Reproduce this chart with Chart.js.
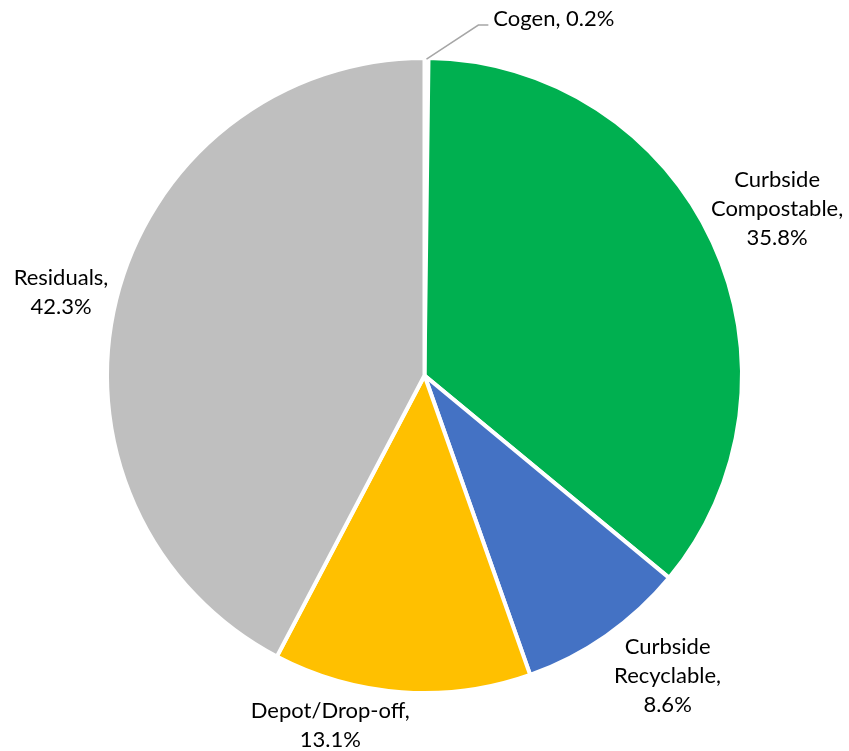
<!DOCTYPE html>
<html>
<head>
<meta charset="utf-8">
<script src="https://cdn.jsdelivr.net/npm/chart.js@4/dist/chart.umd.min.js"></script>
<style>
  html, body { margin: 0; padding: 0; background: #fff; }
  #wrap { width: 849px; height: 751px; position: relative; }
</style>
</head>
<body>
<div id="wrap"><canvas id="pie"></canvas></div>
<script>
/* Waste stream shares — pie with outside labels */
const categories = ['Cogen', 'Curbside Compostable', 'Curbside Recyclable', 'Depot/Drop-off', 'Residuals'];
const shares = [0.2, 35.8, 8.6, 13.1, 42.3];
const sliceColors = ['#A5A5A5', '#00B050', '#4472C4', '#FFC000', '#BFBFBF'];

// how many lines each label wraps onto, and nudges from the default spot
const labelLineCount = [1, 3, 3, 2, 2];
const labelDx = [127, 10, 27, -67, 3];
const labelDy = [21, -8, -9, -27, 7];

const LABEL_FONT = '22px Lato, "Open Sans", sans-serif';
const LINE_H = 29;

function labelLines(i) {
  const pct = shares[i].toFixed(1) + '%';
  const n = labelLineCount[i];
  if (n === 1) return [categories[i] + ', ' + pct];
  if (n === 2) return [categories[i] + ',', pct];
  const words = categories[i].split(' ');
  return [words[0], words.slice(1).join(' ') + ',', pct];
}

const outsideLabels = {
  id: 'outsideLabels',
  afterDatasetsDraw(chart) {
    const ctx = chart.ctx;
    const arcs = chart.getDatasetMeta(0).data;
    ctx.save();
    ctx.font = LABEL_FONT;
    ctx.fillStyle = '#000';
    ctx.textAlign = 'center';
    ctx.textBaseline = 'middle';
    arcs.forEach((arc, i) => {
      const p = arc.getProps(['x', 'y', 'startAngle', 'endAngle', 'outerRadius'], true);
      const mid = (p.startAngle + p.endAngle) / 2;
      const cx = p.x + Math.cos(mid) * (p.outerRadius + 60) + labelDx[i];
      const cy = p.y + Math.sin(mid) * (p.outerRadius + 60) + labelDy[i];
      const lines = labelLines(i);
      const top = cy - (lines.length - 1) * LINE_H / 2;
      lines.forEach((t, k) => ctx.fillText(t, cx, top + k * LINE_H));

      // leader line for the tiny slice
      if (lines.length === 1) {
        const w = ctx.measureText(lines[0]).width;
        const sx = p.x + Math.cos(mid) * (p.outerRadius - 1);
        const sy = p.y + Math.sin(mid) * (p.outerRadius - 1);
        const ex = cx - w / 2 - 5;
        const ey = cy + 6;
        ctx.beginPath();
        ctx.moveTo(sx, sy);
        ctx.lineTo(ex - 10, ey);
        ctx.lineTo(ex, ey);
        ctx.strokeStyle = '#A6A6A6';
        ctx.lineWidth = 1.5;
        ctx.stroke();
      }
    });
    ctx.restore();
  }
};

new Chart(document.getElementById('pie').getContext('2d'), {
  type: 'pie',
  data: {
    labels: categories,
    datasets: [{
      data: shares,
      backgroundColor: sliceColors,
      borderColor: '#fff',
      borderWidth: 4
    }]
  },
  options: {
    responsive: true,
    maintainAspectRatio: false,
    animation: false,
    layout: { padding: { top: 56, bottom: 56, left: 100, right: 100 } },
    plugins: {
      legend: { display: false },
      tooltip: { enabled: false }
    }
  },
  plugins: [outsideLabels]
});
</script>
</body>
</html>
